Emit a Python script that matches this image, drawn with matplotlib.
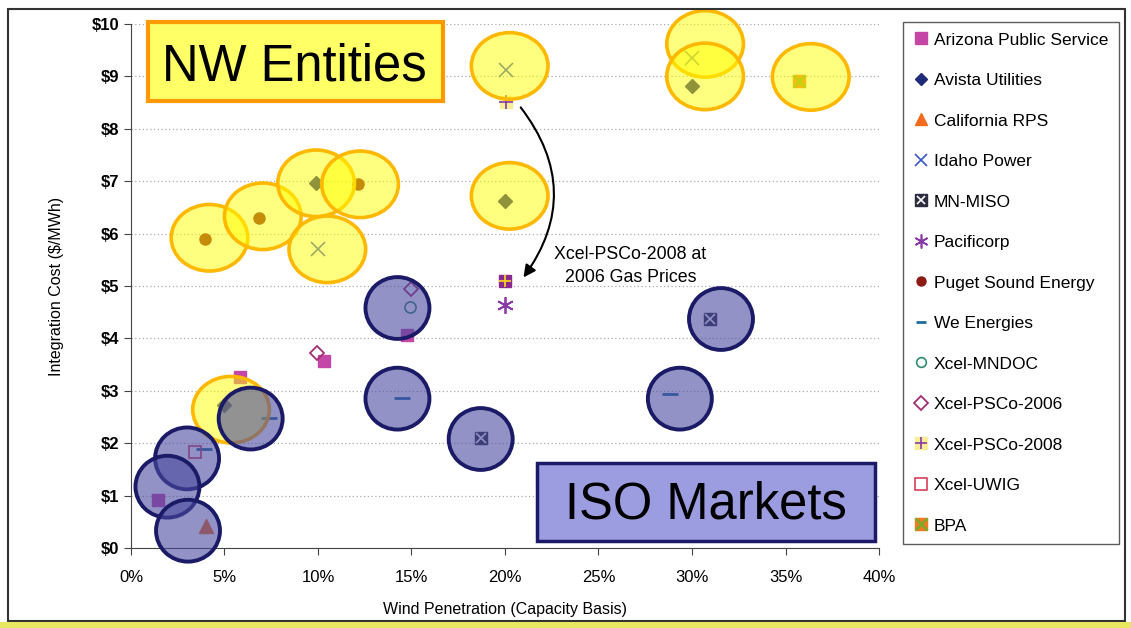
import matplotlib
matplotlib.use("Agg")
import matplotlib.pyplot as plt
from matplotlib.patches import Ellipse, Rectangle
from matplotlib.ticker import FuncFormatter, MultipleLocator

plt.rcParams["font.family"] = ["Liberation Sans", "DejaVu Sans"]

# ---- data (wind penetration %, integration cost $/MWh) ----
aps_x = [1.45, 5.85, 10.3, 14.75]
aps_y = [0.92, 3.26, 3.57, 4.07]
avista_x = [5.0, 9.9, 20.0, 30.0]
avista_y = [2.73, 6.97, 6.63, 8.82]
calrps_x = [4.0]
calrps_y = [0.42]
idaho_x = [10.0, 20.05, 30.0]
idaho_y = [5.7, 9.12, 9.35]
mnmiso_x = [18.7, 30.95]
mnmiso_y = [2.1, 4.37]
pacificorp_x = [20.0]
pacificorp_y = [4.63]
puget_x = [3.95, 6.85, 12.15]
puget_y = [5.9, 6.3, 6.95]
we_x = [3.9, 7.4, 14.5, 28.8]
we_y = [1.89, 2.49, 2.86, 2.93]
mndoc_x = [14.9]
mndoc_y = [4.6]
psco06_x = [9.95, 14.97]
psco06_y = [3.72, 4.94]
psco08_x = [20.05]
psco08_y = [8.52]
psco08_gas06_x = [20.0]
psco08_gas06_y = [5.1]
uwig_x = [3.4]
uwig_y = [1.83]
bpa_x = [35.7]
bpa_y = [8.92]

# highlighted groups (circle centres)
nw_x = [4.2, 7.05, 9.9, 12.25, 10.5, 20.25, 20.25, 30.7, 30.7, 36.35, 5.35]
nw_y = [5.92, 6.33, 6.96, 6.94, 5.7, 9.2, 6.72, 9.62, 9.0, 8.99, 2.64]
iso_x = [14.25, 14.25, 18.7, 31.55, 29.35, 6.4, 3.0, 1.95, 3.05]
iso_y = [4.58, 2.85, 2.08, 4.37, 2.85, 2.47, 1.71, 1.17, 0.33]

fig = plt.figure(figsize=(11.31, 6.28), dpi=100)
ax = fig.add_axes([0.1158, 0.1274, 0.6614, 0.8344])

# outer slide frame
fig.patches.append(Rectangle((0.007, 0.011), 0.988, 0.974, transform=fig.transFigure,
                             fill=False, edgecolor="#333333", linewidth=1.5))
fig.patches.append(Rectangle((0.0, 0.0), 1.0, 0.009, transform=fig.transFigure,
                             facecolor="#E8E860", edgecolor="none"))

ms = 9
ax.plot(aps_x, aps_y, "s", color="#C447A8", ms=ms, zorder=3)
ax.plot(avista_x, avista_y, "D", color="#1F2A78", ms=7.5, zorder=3)
ax.plot(calrps_x, calrps_y, "^", color="#F26B1D", ms=10, zorder=3)
ax.plot(idaho_x, idaho_y, "x", color="#3A57C8", ms=10, mew=1.2, zorder=3)
ax.plot(mnmiso_x, mnmiso_y, "s", color="#2D2D40", ms=ms, zorder=3)
ax.plot(mnmiso_x, mnmiso_y, "x", color="white", ms=7, mew=1.2, zorder=3)
ax.plot(pacificorp_x, pacificorp_y, linestyle="none", marker=(6, 2, 0), color="#8A3AA6",
        ms=12, mew=1.3, zorder=3)
ax.plot(puget_x, puget_y, "o", color="#8B1A14", ms=8, zorder=3)
ax.plot(we_x, we_y, "_", color="#1F6E9C", ms=11, mew=2, zorder=3)
ax.plot(mndoc_x, mndoc_y, "o", mfc="none", mec="#2E8B70", ms=8, mew=1.2, zorder=3)
ax.plot(psco06_x, psco06_y, "D", mfc="none", mec="#A3306E", ms=7.5, mew=1.3, zorder=3)
ax.plot(psco08_x, psco08_y, "s", color="#F8EE9A", ms=ms, zorder=3)
ax.plot(psco08_x, psco08_y, "+", color="#8A3AA6", ms=10, mew=1.2, zorder=3)
ax.plot(psco08_gas06_x, psco08_gas06_y, "s", color="#8A2A8E", ms=ms, zorder=3)
ax.plot(psco08_gas06_x, psco08_gas06_y, "+", color="#F5D020", ms=9, mew=1.3, zorder=3)
ax.plot(uwig_x, uwig_y, "s", mfc="none", mec="#D8405A", ms=ms, mew=1.2, zorder=3)
ax.plot(bpa_x, bpa_y, "s", color="#F07A20", ms=ms, zorder=3)
ax.plot(bpa_x, bpa_y, "x", color="#7AAA2A", ms=8, mew=1.8, zorder=3)

for cx, cy in zip(nw_x, nw_y):
    ax.add_patch(Ellipse((cx, cy), 4.1, 1.27, facecolor=(1, 1, 0, 0.5),
                         edgecolor="#FFB800", linewidth=2.6, zorder=4, clip_on=False))
for cx, cy in zip(iso_x, iso_y):
    ax.add_patch(Ellipse((cx, cy), 3.42, 1.18, facecolor=(0.29, 0.29, 0.63, 0.6),
                         edgecolor="#1A1A66", linewidth=2.8, zorder=5, clip_on=False))

ax.set_xlim(0, 40)
ax.set_ylim(0, 10)
ax.xaxis.set_major_locator(MultipleLocator(5))
ax.yaxis.set_major_locator(MultipleLocator(1))
ax.xaxis.set_major_formatter(FuncFormatter(lambda v, p: f"{v:.0f}%"))
ax.yaxis.set_major_formatter(FuncFormatter(lambda v, p: f"${v:.0f}"))
ax.tick_params(axis="both", direction="out", length=5, color="#444444", labelsize=12)
ax.tick_params(axis="x", pad=11)
for lbl in ax.get_yticklabels():
    lbl.set_fontweight("bold")
ax.grid(axis="y", linestyle=(0, (1, 2)), color="#AAAAAA", linewidth=0.9)
ax.set_axisbelow(True)
for side in ["top", "right"]:
    ax.spines[side].set_visible(False)
for side in ["left", "bottom"]:
    ax.spines[side].set_color("#444444")
ax.set_xlabel("Wind Penetration (Capacity Basis)", fontsize=11.5, labelpad=12)
ax.set_ylabel("Integration Cost ($/MWh)", fontsize=11.5, labelpad=20)

# group boxes
ax.add_patch(Rectangle((0.91, 8.53), 15.77, 1.51, facecolor="#FFFF66", edgecolor="#FF9900",
                       linewidth=3, zorder=6, clip_on=False))
ax.text(8.72, 8.93, "NW Entities", fontsize=36.5, ha="center", va="baseline", zorder=7)
ax.add_patch(Rectangle((21.71, 0.14), 18.08, 1.48, facecolor="#9C9CE0", edgecolor="#1A1A66",
                       linewidth=2.5, zorder=6, clip_on=False))
ax.text(30.72, 0.57, "ISO Markets", fontsize=36.5, ha="center", va="baseline", zorder=7)

ax.annotate("", xy=(20.9, 5.12), xytext=(20.75, 8.45),
            arrowprops=dict(arrowstyle="-|>", color="black", lw=1.5, mutation_scale=18,
                            connectionstyle="arc3,rad=-0.38"), zorder=6)
ax.text(26.7, 5.38, "Xcel-PSCo-2008 at\n2006 Gas Prices", fontsize=12.8, ha="center",
        va="center", linespacing=1.4, zorder=6)

# legend
def mk(**kw):
    return plt.Line2D([], [], linestyle="none", **kw)

handles = [
    mk(marker="s", color="#C447A8", ms=8),
    mk(marker="D", color="#1F2A78", ms=6.5),
    mk(marker="^", color="#F26B1D", ms=9),
    mk(marker="x", color="#3A57C8", ms=9, mew=1.2),
    (mk(marker="s", color="#2D2D40", ms=8), mk(marker="x", color="white", ms=6, mew=1.2)),
    mk(marker=(6, 2, 0), color="#8A3AA6", ms=10, mew=1.2),
    mk(marker="o", color="#8B1A14", ms=6.5),
    mk(marker="_", color="#1F6E9C", ms=7, mew=2),
    mk(marker="o", mfc="none", mec="#2E8B70", ms=7, mew=1.2),
    mk(marker="D", mfc="none", mec="#A3306E", ms=7, mew=1.3),
    (mk(marker="s", color="#F8EE9A", ms=9), mk(marker="+", color="#8A3AA6", ms=9, mew=1.2)),
    mk(marker="s", mfc="none", mec="#D8405A", ms=8, mew=1.2),
    (mk(marker="s", color="#F07A20", ms=9), mk(marker="x", color="#7AAA2A", ms=8, mew=1.8)),
]
labels = ["Arizona Public Service", "Avista Utilities", "California RPS", "Idaho Power",
          "MN-MISO", "Pacificorp", "Puget Sound Energy", "We Energies", "Xcel-MNDOC",
          "Xcel-PSCo-2006", "Xcel-PSCo-2008", "Xcel-UWIG", "BPA"]
leg = fig.legend(handles, labels, loc="upper left", bbox_to_anchor=(0.798, 0.965),
                 fontsize=12.5, frameon=True, fancybox=False, edgecolor="#333333",
                 labelspacing=1.46, handlelength=0.9, handletextpad=0.3,
                 borderpad=0.6, borderaxespad=0)
leg.get_frame().set_linewidth(1.0)

fig.savefig("out.png", dpi=100)
